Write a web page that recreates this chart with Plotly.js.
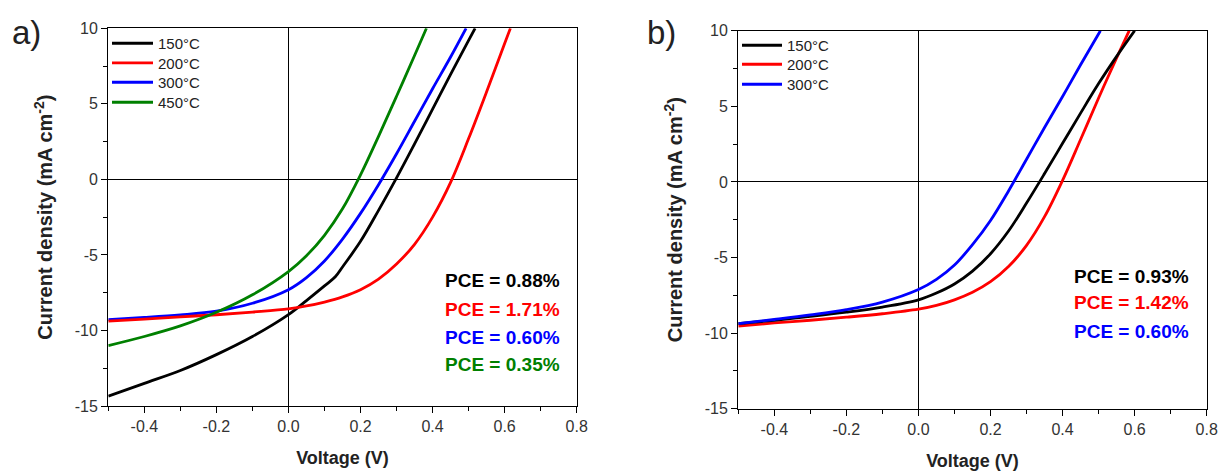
<!DOCTYPE html>
<html>
<head>
<meta charset="utf-8">
<script src="https://cdn.plot.ly/plotly-3.0.1.min.js"></script>
<style>
html,body{margin:0;padding:0;background:#ffffff;}
#chart{width:1220px;height:471px;}
</style>
</head>
<body>
<div id="chart"></div>
<script>
// ---------- Data ----------
// Panel a)
const a150V = [-0.5,-0.4,-0.3,-0.2,-0.1,0,0.05,0.1,0.13,0.15,0.2,0.25,0.3,0.35,0.4,0.45,0.5,0.518];
const a150J = [-14.35,-13.5,-12.65,-11.6,-10.4,-8.95,-8.02,-7.05,-6.45,-5.8,-4.1,-2.05,0.1,2.35,4.65,6.95,9.2,10];
const a200V = [-0.5,-0.4,-0.3,-0.2,-0.1,0,0.05,0.1,0.15,0.2,0.25,0.3,0.35,0.4,0.45,0.5,0.55,0.6,0.616];
const a200J = [-9.38,-9.25,-9.1,-8.96,-8.78,-8.57,-8.38,-8.12,-7.78,-7.3,-6.6,-5.6,-4.3,-2.5,-0.2,2.7,5.8,9.0,10];
const a300V = [-0.5,-0.4,-0.3,-0.2,-0.1,0,0.05,0.1,0.15,0.2,0.25,0.3,0.35,0.4,0.45,0.493];
const a300J = [-9.28,-9.14,-8.97,-8.72,-8.2,-7.3,-6.5,-5.4,-3.95,-2.25,-0.35,1.7,3.85,6.0,8.1,10];
const a450V = [-0.5,-0.4,-0.3,-0.2,-0.1,0,0.05,0.1,0.15,0.2,0.25,0.3,0.35,0.383];
const a450J = [-11.0,-10.4,-9.7,-8.8,-7.64,-6.1,-5.05,-3.7,-1.95,0.3,2.85,5.5,8.2,10];
const aPCE = ['PCE = 0.88%','PCE = 1.71%','PCE = 0.60%','PCE = 0.35%'];

// Panel b)
const b150V = [-0.5,-0.4,-0.3,-0.2,-0.1,0,0.05,0.1,0.15,0.2,0.25,0.3,0.35,0.4,0.45,0.5,0.55,0.6];
const b150J = [-9.38,-9.15,-8.9,-8.62,-8.28,-7.8,-7.35,-6.75,-5.9,-4.75,-3.25,-1.4,0.55,2.55,4.55,6.5,8.3,10];
const b200V = [-0.5,-0.4,-0.3,-0.2,-0.1,0,0.05,0.1,0.15,0.2,0.25,0.3,0.35,0.4,0.45,0.5,0.55,0.585];
const b200J = [-9.53,-9.33,-9.15,-8.95,-8.72,-8.42,-8.17,-7.8,-7.3,-6.6,-5.6,-4.2,-2.3,0.1,2.8,5.55,8.2,10];
const b300V = [-0.5,-0.4,-0.3,-0.2,-0.1,0,0.05,0.1,0.15,0.2,0.25,0.3,0.35,0.4,0.45,0.505];
const b300J = [-9.38,-9.1,-8.8,-8.45,-7.95,-7.12,-6.45,-5.5,-4.15,-2.55,-0.6,1.5,3.6,5.65,7.75,10];
const bPCE = ['PCE = 0.93%','PCE = 1.42%','PCE = 0.60%'];

const seriesNames = ['150°C','200°C','300°C','450°C'];

// Tick labels
const xTickVals = [-0.4,-0.2,0.0,0.2,0.4,0.6,0.8];
const xTickText = ['-0.4','-0.2','0.0','0.2','0.4','0.6','0.8'];
const yTickVals = [-15,-10,-5,0,5,10];
const yTickText = ['-15','-10','-5','0','5','10'];

// ---------- Styling ----------
const COLORS = ['#000000','#ff0000','#0000ff','#008000'];
const FONT = 'Arial, "Liberation Sans", sans-serif';
const LW = 2.8;
const W = 1220, H = 471;

function curve(x, y, idx, xa, ya, leg) {
  return {
    type: 'scatter', mode: 'lines', x: x, y: y,
    name: seriesNames[idx], xaxis: xa, yaxis: ya, legend: leg,
    line: {color: COLORS[idx], width: LW, shape: 'spline', smoothing: 1},
    hoverinfo: 'x+y+name'
  };
}

// draw order chosen to match overlaps; each entry has its own legend box
const traces = [
  curve(a150V, a150J, 0, 'x', 'y', 'legend'),
  curve(a300V, a300J, 2, 'x', 'y', 'legend3'),
  curve(a200V, a200J, 1, 'x', 'y', 'legend2'),
  curve(a450V, a450J, 3, 'x', 'y', 'legend4'),
  curve(b200V, b200J, 1, 'x2', 'y2', 'legend6'),
  curve(b150V, b150J, 0, 'x2', 'y2', 'legend5'),
  curve(b300V, b300J, 2, 'x2', 'y2', 'legend7')
];

function xAxis(domain, anchor, standoff) {
  return {
    domain: domain, anchor: anchor, range: [-0.5, 0.8],
    tickmode: 'array', tickvals: xTickVals, ticktext: xTickText,
    ticks: 'outside', ticklen: 6, tickwidth: 1, tickcolor: '#000',
    minor: {tickmode: 'linear', tick0: 0, dtick: 0.1, ticks: 'outside', ticklen: 4, tickwidth: 1, tickcolor: '#000', showgrid: false},
    showline: true, mirror: true, linecolor: '#000', linewidth: 1.2,
    showgrid: false, zeroline: true, zerolinecolor: '#000', zerolinewidth: 1,
    tickfont: {family: FONT, size: 16, color: '#333'},
    title: {text: 'Voltage (V)', standoff: standoff, font: {family: FONT, size: 18, color: '#222', weight: 'bold'}},
    automargin: false, fixedrange: true
  };
}
function yAxis(domain, anchor, standoff) {
  return {
    domain: domain, anchor: anchor, range: [-15, 10],
    tickmode: 'array', tickvals: yTickVals, ticktext: yTickText,
    ticks: 'outside', ticklen: 6, tickwidth: 1, tickcolor: '#000',
    minor: {tickmode: 'linear', tick0: 0, dtick: 2.5, ticks: 'outside', ticklen: 4, tickwidth: 1, tickcolor: '#000', showgrid: false},
    showline: true, mirror: true, linecolor: '#000', linewidth: 1.2,
    showgrid: false, zeroline: true, zerolinecolor: '#000', zerolinewidth: 1,
    tickfont: {family: FONT, size: 16, color: '#333'},
    title: {text: 'Current density (mA cm<sup>-2</sup>)', standoff: standoff, font: {family: FONT, size: 20, color: '#222', weight: 'bold'}},
    automargin: false, fixedrange: true
  };
}

const annotations = [];
const aPCEy = [-6.69, -8.63, -10.44, -12.25];
aPCE.forEach((t, i) => annotations.push({
  xref: 'x', yref: 'y', x: 0.43, y: aPCEy[i], xanchor: 'left', yanchor: 'middle',
  text: t, showarrow: false, font: {family: FONT, size: 19, color: COLORS[i], weight: 'bold'}
}));
const bPCEy = [-6.23, -7.99, -9.87];
bPCE.forEach((t, i) => annotations.push({
  xref: 'x2', yref: 'y2', x: 0.425, y: bPCEy[i], xanchor: 'left', yanchor: 'middle',
  text: t, showarrow: false, font: {family: FONT, size: 19, color: COLORS[i], weight: 'bold'}
}));
annotations.push({xref: 'paper', yref: 'paper', x: 10/W, y: 1 - 33/H, xanchor: 'left', yanchor: 'middle',
  text: 'a)', showarrow: false, font: {family: FONT, size: 33, color: '#222'}});
annotations.push({xref: 'paper', yref: 'paper', x: 645/W, y: 1 - 33/H, xanchor: 'left', yanchor: 'middle',
  text: 'b)', showarrow: false, font: {family: FONT, size: 33, color: '#222'}});

function legendBox(xpx, toppx, iw) {
  return {x: xpx/W, y: 1 - toppx/H, xanchor: 'left', yanchor: 'top', bgcolor: 'rgba(0,0,0,0)',
    borderwidth: 0, font: {family: FONT, size: 15, color: '#222'}, itemwidth: iw};
}

const layout = {
  width: W, height: H,
  margin: {l: 0, r: 0, t: 0, b: 0},
  paper_bgcolor: '#ffffff', plot_bgcolor: '#ffffff',
  showlegend: true,
  xaxis: xAxis([108.3/W, 576.7/W], 'y', 17),
  yaxis: yAxis([(H-406)/H, (H-28.3)/H], 'x', 16),
  xaxis2: xAxis([738.3/W, 1206.7/W], 'y2', 23),
  yaxis2: yAxis([(H-408.7)/H, (H-30.7)/H], 'x2', 16),
  legend: legendBox(107, 27, 41),
  legend2: legendBox(107, 46.7, 41),
  legend3: legendBox(107, 66, 41),
  legend4: legendBox(107, 86, 41),
  legend5: legendBox(737, 29, 40),
  legend6: legendBox(737, 48, 40),
  legend7: legendBox(737, 68, 40),
  annotations: annotations
};

Plotly.newPlot('chart', traces, layout, {displayModeBar: false, staticPlot: true});
</script>
</body>
</html>
